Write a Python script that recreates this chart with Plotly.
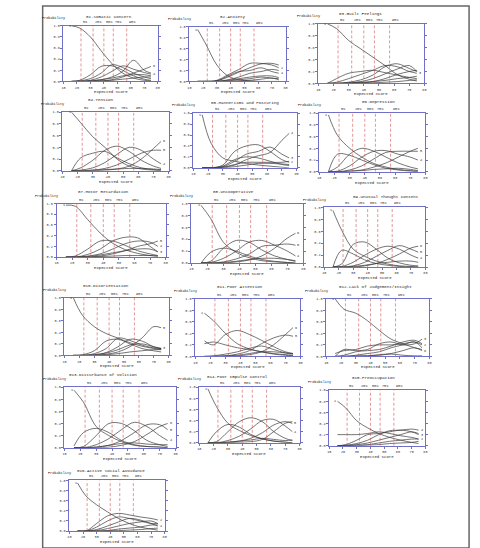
import plotly.graph_objects as go

W, H = 480, 548

XS = [16, 22, 30, 38, 46, 54, 62, 70, 75]
PCT_X = [23, 32, 40, 47, 57]
PCT_LBL = ["5%", "25%", "50%", "75%", "95%"]
Y_TICKS = [0.0, 0.2, 0.4, 0.6, 0.8, 1.0]
X_TICKS = [10, 20, 30, 40, 50, 60, 70, 80]

TITLES = ["01.Somatic Concern", "02.Anxiety", "03.Guilt Feelings", "04.Tension",
          "05.Mannerisms and Posturing", "06.Depression", "07.Motor Retardation",
          "08.Uncooperative", "09.Unusual Thought Content", "010.Disorientation",
          "011.Poor Attention", "012.Lack of Judgement/Insight",
          "013.Disturbance of Volition", "014.Poor Impulse Control",
          "015.Preoccupation", "016.Active Social Avoidance"]

P01 = [[1.0, 0.96, 0.8, 0.55, 0.32, 0.15, 0.06, 0.02, 0.01],
       [0.0, 0.02, 0.12, 0.27, 0.28, 0.2, 0.1, 0.04, 0.02],
       [0, 0.01, 0.05, 0.15, 0.3, 0.25, 0.15, 0.08, 0.05],
       [0, 0, 0.02, 0.08, 0.18, 0.28, 0.22, 0.16, 0.13],
       [0, 0, 0.01, 0.03, 0.08, 0.18, 0.38, 0.2, 0.15],
       [0, 0, 0, 0.01, 0.03, 0.08, 0.15, 0.22, 0.27],
       [0, 0, 0.01, 0.03, 0.06, 0.1, 0.12, 0.12, 0.1],
       [0, 0, 0, 0.01, 0.02, 0.04, 0.06, 0.08, 0.08]]
P02 = [[0.95, 0.68, 0.3, 0.1, 0.03, 0.01, 0, 0, 0],
       [0, 0, 0.02, 0.12, 0.22, 0.33, 0.33, 0.3, 0.25],
       [0, 0, 0.01, 0.08, 0.17, 0.25, 0.32, 0.33, 0.3],
       [0, 0, 0.01, 0.1, 0.18, 0.2, 0.25, 0.18, 0.15],
       [0, 0, 0, 0.03, 0.08, 0.15, 0.18, 0.22, 0.2],
       [0, 0, 0, 0.02, 0.05, 0.08, 0.1, 0.1, 0.07],
       [0, 0, 0, 0.01, 0.03, 0.05, 0.08, 0.06, 0.05],
       [0, 0, 0, 0, 0.01, 0.02, 0.04, 0.06, 0.03]]
P03 = [[1.0, 0.92, 0.72, 0.58, 0.44, 0.3, 0.15, 0.07, 0.04],
       [0, 0.08, 0.17, 0.2, 0.22, 0.18, 0.14, 0.1, 0.08],
       [0, 0.02, 0.08, 0.15, 0.22, 0.3, 0.28, 0.2, 0.17],
       [0, 0, 0.02, 0.06, 0.14, 0.28, 0.33, 0.25, 0.2],
       [0, 0, 0.01, 0.03, 0.08, 0.16, 0.24, 0.3, 0.2],
       [0, 0, 0, 0.01, 0.03, 0.08, 0.15, 0.2, 0.22],
       [0, 0, 0.01, 0.02, 0.03, 0.05, 0.08, 0.1, 0.12],
       [0, 0, 0, 0.01, 0.01, 0.02, 0.03, 0.05, 0.06]]
P04 = [[1.0, 0.82, 0.58, 0.4, 0.2, 0.08, 0.03, 0.01, 0],
       [0, 0.22, 0.3, 0.33, 0.22, 0.12, 0.05, 0.02, 0.01],
       [0, 0.05, 0.18, 0.35, 0.42, 0.33, 0.18, 0.08, 0.04],
       [0, 0.01, 0.05, 0.14, 0.28, 0.4, 0.35, 0.2, 0.12],
       [0, 0, 0.01, 0.04, 0.1, 0.2, 0.3, 0.35, 0.35],
       [0, 0, 0, 0.01, 0.03, 0.08, 0.2, 0.38, 0.5],
       [0, 0, 0.01, 0.02, 0.03, 0.04, 0.04, 0.03, 0.02]]
P05 = [[0.97, 0.45, 0.18, 0.12, 0.08, 0.05, 0.03, 0.01, 0],
       [0, 0, 0.05, 0.3, 0.4, 0.42, 0.3, 0.15, 0.1],
       [0, 0, 0.02, 0.12, 0.25, 0.3, 0.38, 0.25, 0.18],
       [0, 0, 0.01, 0.05, 0.15, 0.22, 0.28, 0.5, 0.63],
       [0, 0, 0.03, 0.15, 0.2, 0.18, 0.12, 0.06, 0.04],
       [0, 0, 0.01, 0.06, 0.1, 0.1, 0.1, 0.1, 0.12],
       [0, 0, 0, 0.02, 0.05, 0.08, 0.08, 0.07, 0.06]]
P06 = [[0.97, 0.62, 0.4, 0.25, 0.14, 0.08, 0.04, 0.02, 0.01],
       [0, 0.3, 0.28, 0.2, 0.12, 0.06, 0.03, 0.01, 0],
       [0, 0.08, 0.3, 0.4, 0.35, 0.25, 0.15, 0.08, 0.05],
       [0, 0.01, 0.1, 0.25, 0.35, 0.36, 0.3, 0.25, 0.2],
       [0, 0, 0.03, 0.1, 0.22, 0.33, 0.35, 0.35, 0.35],
       [0, 0, 0.01, 0.03, 0.08, 0.15, 0.25, 0.35, 0.4],
       [0, 0, 0.01, 0.02, 0.04, 0.05, 0.06, 0.04, 0.02]]
P07 = [[0.97, 0.95, 0.7, 0.45, 0.26, 0.14, 0.07, 0.03, 0.02],
       [0, 0.02, 0.15, 0.3, 0.3, 0.22, 0.12, 0.06, 0.03],
       [0, 0, 0.05, 0.15, 0.3, 0.37, 0.36, 0.2, 0.1],
       [0, 0, 0.02, 0.06, 0.15, 0.25, 0.3, 0.28, 0.2],
       [0, 0, 0, 0.02, 0.06, 0.12, 0.2, 0.25, 0.3],
       [0, 0, 0.01, 0.04, 0.08, 0.12, 0.15, 0.15, 0.1],
       [0, 0, 0, 0.01, 0.02, 0.03, 0.03, 0.03, 0.02]]
P08 = [[0.97, 0.75, 0.35, 0.18, 0.09, 0.04, 0.02, 0.01, 0],
       [0, 0.18, 0.25, 0.2, 0.12, 0.06, 0.03, 0.01, 0],
       [0, 0.03, 0.25, 0.38, 0.35, 0.22, 0.12, 0.06, 0.03],
       [0, 0.01, 0.08, 0.2, 0.35, 0.38, 0.3, 0.2, 0.12],
       [0, 0, 0.02, 0.07, 0.15, 0.28, 0.3, 0.32, 0.3],
       [0, 0, 0, 0.02, 0.05, 0.12, 0.25, 0.42, 0.5],
       [0, 0, 0.01, 0.03, 0.06, 0.08, 0.08, 0.06, 0.04]]
P09 = [[0.95, 0.62, 0.3, 0.18, 0.1, 0.05, 0.02, 0.01, 0],
       [0, 0.28, 0.22, 0.12, 0.06, 0.03, 0.01, 0, 0],
       [0, 0.05, 0.38, 0.42, 0.3, 0.15, 0.07, 0.03, 0.02],
       [0, 0.01, 0.08, 0.2, 0.3, 0.35, 0.3, 0.2, 0.15],
       [0, 0, 0.02, 0.08, 0.18, 0.28, 0.36, 0.3, 0.25],
       [0, 0, 0, 0.02, 0.06, 0.13, 0.22, 0.32, 0.35],
       [0, 0, 0.01, 0.03, 0.06, 0.08, 0.1, 0.1, 0.08]]
P10 = [[1.0, 0.7, 0.5, 0.38, 0.3, 0.22, 0.16, 0.12, 0.1],
       [0, 0.01, 0.08, 0.25, 0.28, 0.2, 0.12, 0.08, 0.06],
       [0, 0, 0.03, 0.12, 0.3, 0.26, 0.18, 0.13, 0.12],
       [0, 0, 0.01, 0.05, 0.15, 0.28, 0.25, 0.15, 0.12],
       [0, 0, 0, 0.02, 0.06, 0.15, 0.3, 0.5, 0.48],
       [0, 0, 0.01, 0.04, 0.1, 0.18, 0.2, 0.15, 0.12],
       [0, 0, 0, 0.01, 0.03, 0.06, 0.08, 0.1, 0.1]]
P11 = [[0.75, 0.62, 0.4, 0.22, 0.13, 0.08, 0.04, 0.02, 0.01],
       [0.27, 0.2, 0.38, 0.45, 0.38, 0.28, 0.17, 0.08, 0.05],
       [0.22, 0.25, 0.2, 0.15, 0.12, 0.08, 0.05, 0.03, 0.02],
       [0, 0.01, 0.04, 0.08, 0.14, 0.18, 0.12, 0.06, 0.04],
       [0, 0, 0.01, 0.04, 0.1, 0.22, 0.32, 0.37, 0.35],
       [0, 0, 0, 0.01, 0.03, 0.08, 0.2, 0.38, 0.5],
       [0, 0, 0.01, 0.02, 0.05, 0.08, 0.08, 0.06, 0.05]]
P12 = [[1.0, 0.82, 0.75, 0.62, 0.45, 0.3, 0.22, 0.15, 0.12],
       [0.05, 0.1, 0.12, 0.18, 0.2, 0.2, 0.22, 0.25, 0.2],
       [0, 0.12, 0.1, 0.12, 0.22, 0.25, 0.2, 0.22, 0.3],
       [0, 0.02, 0.08, 0.1, 0.12, 0.18, 0.25, 0.28, 0.22],
       [0, 0, 0.02, 0.05, 0.08, 0.15, 0.2, 0.25, 0.15],
       [0, 0, 0, 0.01, 0.03, 0.05, 0.1, 0.15, 0.1],
       [0, 0, 0.01, 0.01, 0.02, 0.04, 0.02, 0.01, 0.01]]
P13 = [[0.95, 0.75, 0.35, 0.2, 0.1, 0.04, 0.02, 0.01, 0],
       [0.03, 0.25, 0.32, 0.25, 0.12, 0.05, 0.02, 0.01, 0],
       [0, 0.02, 0.2, 0.4, 0.4, 0.28, 0.12, 0.05, 0.02],
       [0, 0, 0.05, 0.15, 0.3, 0.42, 0.35, 0.2, 0.12],
       [0, 0, 0.01, 0.04, 0.12, 0.25, 0.38, 0.38, 0.3],
       [0, 0, 0, 0.01, 0.04, 0.1, 0.22, 0.35, 0.4],
       [0, 0, 0.01, 0.04, 0.07, 0.08, 0.06, 0.05, 0.05]]
P14 = [[0.97, 0.65, 0.35, 0.22, 0.13, 0.07, 0.03, 0.01, 0],
       [0, 0.2, 0.33, 0.28, 0.15, 0.07, 0.03, 0.01, 0],
       [0, 0.02, 0.2, 0.38, 0.45, 0.38, 0.2, 0.08, 0.04],
       [0, 0, 0.04, 0.12, 0.25, 0.4, 0.42, 0.3, 0.2],
       [0, 0, 0.01, 0.03, 0.08, 0.18, 0.32, 0.38, 0.35],
       [0, 0, 0, 0.01, 0.02, 0.06, 0.2, 0.35, 0.38],
       [0, 0, 0.01, 0.03, 0.05, 0.08, 0.06, 0.04, 0.05]]
P15 = [[0.8, 0.68, 0.45, 0.32, 0.22, 0.15, 0.1, 0.06, 0.04],
       [0.2, 0.2, 0.2, 0.22, 0.25, 0.22, 0.18, 0.15, 0.12],
       [0, 0.02, 0.1, 0.2, 0.22, 0.25, 0.28, 0.25, 0.2],
       [0, 0.01, 0.04, 0.1, 0.2, 0.27, 0.28, 0.3, 0.28],
       [0, 0, 0.02, 0.05, 0.1, 0.15, 0.2, 0.25, 0.22],
       [0, 0, 0.01, 0.02, 0.05, 0.08, 0.1, 0.12, 0.12],
       [0, 0, 0, 0.01, 0.02, 0.04, 0.05, 0.06, 0.08]]
P16 = [[0.95, 0.7, 0.52, 0.38, 0.25, 0.15, 0.08, 0.04, 0.02],
       [0, 0, 0.15, 0.3, 0.35, 0.32, 0.28, 0.25, 0.22],
       [0, 0, 0.08, 0.2, 0.28, 0.25, 0.2, 0.15, 0.15],
       [0, 0, 0.03, 0.1, 0.18, 0.25, 0.22, 0.15, 0.1],
       [0, 0, 0.01, 0.05, 0.1, 0.15, 0.18, 0.2, 0.15],
       [0, 0, 0, 0.01, 0.04, 0.06, 0.08, 0.12, 0.12],
       [0, 0, 0, 0.01, 0.01, 0.02, 0.03, 0.05, 0.06]]

PANELS = [P01, P02, P03, P04, P05, P06, P07, P08, P09, P10, P11, P12, P13, P14, P15, P16]

# panel boxes in pixels: left, right, top, bottom
BOXES = [(62, 157, 24, 80), (189, 286, 25, 80), (319, 426, 22, 82),
         (61, 168, 111, 170), (193, 297, 112, 167), (320, 427, 112, 171),
         (55, 165, 203, 257), (191, 304, 203, 263), (325, 427, 207, 267),
         (63, 168, 298, 356), (195, 301, 299, 357), (327, 431, 299, 357),
         (63, 175, 388, 449), (199, 300, 388, 444), (330, 427, 391, 447),
         (68, 164, 482, 533)]
TITLE_POS = [(108, 15), (233, 15), (362, 12), (100, 99), (245, 102), (380, 101),
             (102, 191), (233, 191), (387, 196), (105, 286), (240, 287), (377, 287),
             (102, 376), (237, 378), (375, 379), (110, 472)]

FONT = "Liberation Mono"
AXC = "#7070c8"
RED = "#d05050"
CURVE = "#3a3a3a"
TXT = "#333333"

def fx(p):
    return p / W

def fy(p):
    return 1 - p / H

fig = go.Figure()
annotations = []
shapes = []
layout = {}

for i, (curves, box, title, tpos) in enumerate(zip(PANELS, BOXES, TITLES, TITLE_POS), start=1):
    sx = "" if i == 1 else str(i)
    xa, ya = "x" + sx, "y" + sx
    l, r, t, b = box
    layout["xaxis" + sx] = dict(
        domain=[fx(l), fx(r)], anchor=ya, range=[10, 80], tickvals=X_TICKS,
        showline=True, linecolor=AXC, linewidth=1, mirror=True, ticks="outside",
        ticklen=2, tickcolor=AXC, showgrid=False, zeroline=False,
        tickfont=dict(size=3.5, family=FONT, color=TXT), fixedrange=True)
    layout["yaxis" + sx] = dict(
        domain=[fy(b), fy(t)], anchor=xa, range=[0, 1], tickvals=Y_TICKS,
        tickformat=".1f", showline=True, linecolor=AXC, linewidth=1, mirror="ticks",
        ticks="outside", ticklen=2, tickcolor=AXC, showgrid=False, zeroline=False,
        tickfont=dict(size=3.5, family=FONT, color=TXT), fixedrange=True)
    used = []
    for k, c in enumerate(curves, start=1):
        fig.add_trace(go.Scatter(
            x=XS, y=c, mode="lines", xaxis=xa, yaxis=ya, showlegend=False,
            hoverinfo="skip", cliponaxis=True,
            line=dict(color=CURVE, width=0.7, shape="spline", smoothing=1.0)))
        if k == 1:
            annotations.append(dict(x=XS[0], y=c[0], xref=xa, yref=ya, text="1",
                                    showarrow=False, xanchor="right", xshift=1,
                                    font=dict(size=3.5, family=FONT, color=TXT)))
        elif c[-1] >= 0.1 and all(abs(c[-1] - u) > 0.07 for u in used):
            used.append(c[-1])
            annotations.append(dict(x=XS[-1], y=c[-1], xref=xa, yref=ya, text=str(k),
                                    showarrow=False, xanchor="left", xshift=0,
                                    font=dict(size=3.5, family=FONT, color=TXT)))
    for px, lbl in zip(PCT_X, PCT_LBL):
        shapes.append(dict(type="line", xref=xa, yref=ya, x0=px, x1=px, y0=0, y1=1,
                           line=dict(color=RED, width=0.6, dash="3px,2px")))
        annotations.append(dict(x=px, y=1, xref=xa, yref=ya, text=lbl, showarrow=False,
                                xanchor="left", yanchor="bottom", xshift=0, yshift=0,
                                font=dict(size=3.5, family=FONT, color=TXT)))
    annotations.append(dict(x=fx(tpos[0]), y=fy(tpos[1]), xref="paper", yref="paper",
                            text=title, showarrow=False, xanchor="center", yanchor="middle",
                            font=dict(size=4.2, family=FONT, color="#222222")))
    annotations.append(dict(x=fx(l - 10), y=fy(t - 8), xref="paper", yref="paper",
                            text="Probability", showarrow=False, xanchor="center",
                            yanchor="middle", font=dict(size=3.5, family=FONT, color="#222222")))
    annotations.append(dict(x=fx((l + r) / 2), y=fy(b + 11), xref="paper", yref="paper",
                            text="Expected Score", showarrow=False, xanchor="center",
                            yanchor="middle", font=dict(size=4, family=FONT, color="#222222")))

# outer frame
shapes.append(dict(type="rect", xref="paper", yref="paper", x0=fx(41), x1=fx(471),
                   y0=fy(550), y1=fy(4), line=dict(color="#666666", width=1.5)))

fig.update_layout(width=W, height=H, margin=dict(l=0, r=0, t=0, b=0),
                  paper_bgcolor="white", plot_bgcolor="white",
                  annotations=annotations, shapes=shapes, **layout)

fig.write_html("out.html")
